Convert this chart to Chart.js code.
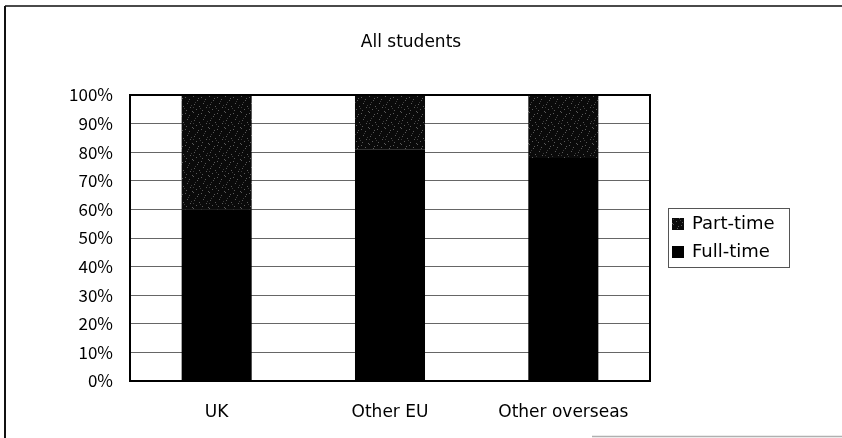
<!DOCTYPE html>
<html>
<head>
<meta charset="utf-8">
<script src="https://cdn.jsdelivr.net/npm/chart.js@4/dist/chart.umd.min.js"></script>
<style>
  html, body { margin: 0; padding: 0; background: #fff; }
  canvas { display: block; }
</style>
</head>
<body>
<canvas id="c" width="842" height="438"></canvas>
<script>
// Share of students by mode of study, per domicile
const categories = ['UK', 'Other EU', 'Other overseas'];
const fullTime = [60, 81, 78];
const partTime = [40, 19, 22];
const yTicks = [0, 10, 20, 30, 40, 50, 60, 70, 80, 90, 100];
const chartTitle = 'All students';

const LABEL_FONT = '17px "DejaVu Sans", sans-serif';
const LEGEND_FONT = '18px "DejaVu Sans", sans-serif';

// Near-black stippled fill for the part-time segments
function stipple() {
  const t = document.createElement('canvas');
  t.width = 16; t.height = 16;
  const g = t.getContext('2d');
  g.fillStyle = '#0a0a0a';
  g.fillRect(0, 0, 16, 16);
  g.fillStyle = '#5a5a5a';
  [[1,0],[9,1],[13,3],[5,4],[11,7],[2,8],[7,10],[14,11],[4,13],[10,14],[0,15],[6,2]]
    .forEach(([x, y]) => g.fillRect(x, y, 1, 1));
  g.fillStyle = '#3a3a3a';
  [[3,6],[12,5],[8,12],[15,9],[1,11]].forEach(([x, y]) => g.fillRect(x, y, 1, 1));
  return g.createPattern(t, 'repeat');
}
const partFill = stipple();

const decor = {
  id: 'decor',
  beforeDraw(chart) {
    const ctx = chart.ctx;
    ctx.save();
    ctx.fillStyle = '#fff';
    ctx.fillRect(0, 0, chart.width, chart.height);
    // outer frame
    ctx.strokeStyle = '#4a4a4a';
    ctx.lineWidth = 2;
    ctx.beginPath();
    ctx.moveTo(5, 6); ctx.lineTo(842, 6);
    ctx.stroke();
    ctx.strokeStyle = '#111';
    ctx.beginPath();
    ctx.moveTo(5, 6); ctx.lineTo(5, 438);
    ctx.stroke();
    ctx.strokeStyle = '#b0b0b0';
    ctx.lineWidth = 1.5;
    ctx.beginPath();
    ctx.moveTo(592, 436.5); ctx.lineTo(842, 436.5);
    ctx.stroke();
    // title
    ctx.fillStyle = '#000';
    ctx.font = LABEL_FONT;
    ctx.textAlign = 'center';
    ctx.textBaseline = 'middle';
    ctx.fillText(chartTitle, 411, 43);
    ctx.restore();
  },
  afterDraw(chart) {
    const ctx = chart.ctx;
    const a = chart.chartArea;
    ctx.save();
    // plot border
    ctx.strokeStyle = '#000';
    ctx.lineWidth = 2;
    ctx.strokeRect(a.left, a.top, a.right - a.left, a.bottom - a.top);
    // legend box
    ctx.strokeStyle = '#555';
    ctx.lineWidth = 1;
    ctx.strokeRect(668.5, 208.5, 121, 59);
    const items = [...chart.data.datasets].reverse();
    ctx.font = LEGEND_FONT;
    ctx.textAlign = 'left';
    ctx.textBaseline = 'middle';
    items.forEach((ds, i) => {
      const cy = 224 + i * 28;
      ctx.fillStyle = ds.backgroundColor;
      ctx.fillRect(672, cy - 6, 12, 12);
      ctx.fillStyle = '#000';
      ctx.fillText(ds.label, 692, cy);
    });
    ctx.restore();
  }
};

new Chart(document.getElementById('c'), {
  type: 'bar',
  data: {
    labels: categories,
    datasets: [
      { label: 'Full-time', data: fullTime, backgroundColor: '#000', borderWidth: 0 },
      { label: 'Part-time', data: partTime, backgroundColor: partFill, borderWidth: 0 }
    ]
  },
  options: {
    responsive: false,
    animation: false,
    events: [],
    layout: { padding: { left: 70, top: 95, right: 192, bottom: 0 } },
    datasets: { bar: { categoryPercentage: 1, barPercentage: 0.404 } },
    plugins: { legend: { display: false }, title: { display: false }, tooltip: { enabled: false } },
    scales: {
      x: {
        stacked: true,
        grid: { display: false, drawTicks: false },
        border: { display: false },
        ticks: { color: '#000', font: { family: '"DejaVu Sans", sans-serif', size: 17 }, padding: 21, maxRotation: 0 },
        afterFit: s => { s.height = 57; }
      },
      y: {
        stacked: true,
        min: 0,
        max: 100,
        afterBuildTicks: s => { s.ticks = yTicks.map(v => ({ value: v })); },
        grid: { color: '#666', lineWidth: 1, drawTicks: false },
        border: { display: true, color: '#000', width: 2 },
        ticks: { color: '#000', font: { family: '"Noto Sans CJK JP", sans-serif', size: 17 }, padding: 17, callback: v => v + '%' },
        afterFit: s => { s.width = 60; }
      }
    }
  },
  plugins: [decor]
});
</script>
</body>
</html>
